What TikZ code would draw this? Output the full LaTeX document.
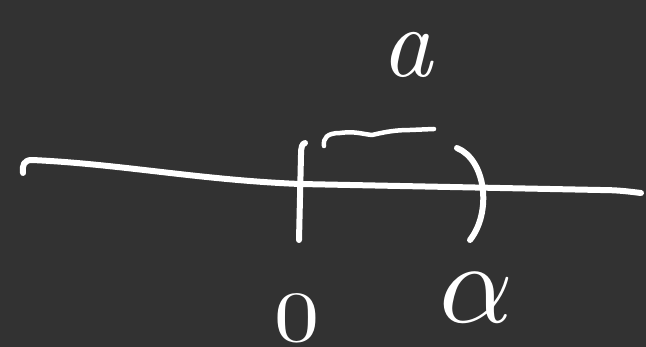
\documentclass[tikz,border=0pt]{standalone}
\definecolor{board}{RGB}{50,50,50}
\tikzset{
  ink/.style={draw=white, line width=6pt, line cap=round, line join=round},
  chalk/.style={text=white, inner sep=0pt},
}
\begin{document}
\begin{tikzpicture}[x=1pt,y=-1pt]
\fill[board] (0,0) rectangle (646,347);
\useasboundingbox (0,0) rectangle (646,347);
% number line
\draw[ink] (23,173) .. controls (22,165) and (24,160) .. (32,160)
  .. controls (120,164) and (200,180) .. (300,184)
  -- (600,190) .. controls (620,190) and (632,192) .. (641,193);
% tick at 0
\draw[ink] (305,143) .. controls (302,144) and (301,147) .. (301,155) -- (299,240);
% right parenthesis
\draw[ink] (457,148) .. controls (486,160) and (492,212) .. (470,240);
% tilde squiggle
\draw[ink, line width=4.5pt] (324,146) .. controls (323,138) and (327,133) .. (340,133)
  .. controls (355,131) and (362,134) .. (372,135)
  .. controls (385,132) and (395,130) .. (410,130) -- (434,129);
% labels
\node[chalk, scale=10] (top) at (410,55) {$\mathbf{\mathit{a}}$};
\node[chalk, xscale=9, yscale=7.2] (zero) at (297,318) {$0$};
\node[chalk, scale=11.5] (alpha) at (476,298) {$\alpha$};
\end{tikzpicture}
\end{document}
